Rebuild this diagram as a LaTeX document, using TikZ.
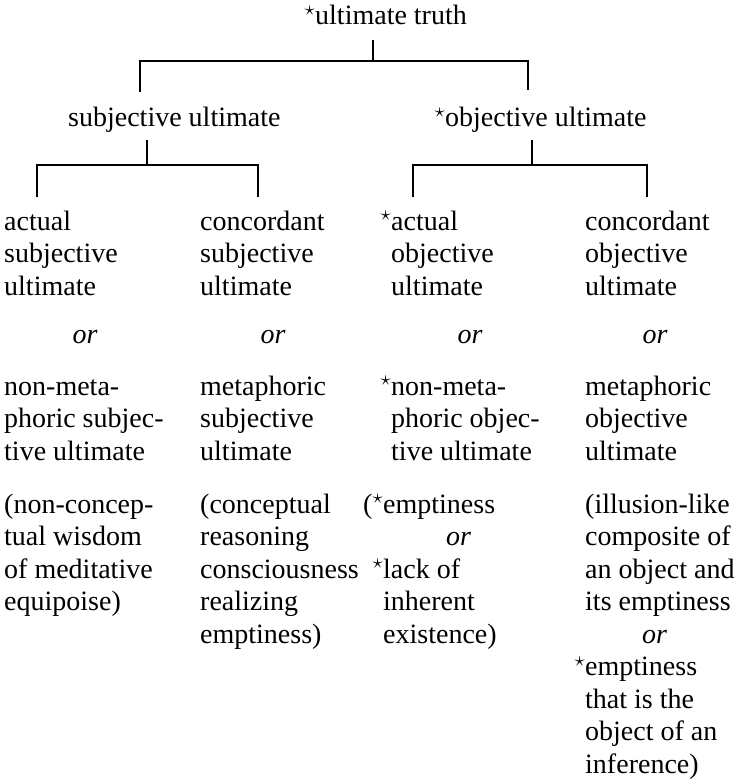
\documentclass[tikz,border=0pt]{standalone}
\usepackage{fontspec}
\setmainfont{Liberation Serif}
\newcommand{\ustar}{\textsuperscript{$\star$}}

\begin{document}
\begin{tikzpicture}[
    x=1pt, y=-1pt,
    txt/.style={align=left, anchor=base west, inner sep=0pt, font=\fontsize{28}{32.5}\selectfont},
    ortxt/.style={anchor=base, inner sep=0pt, font=\fontsize{28}{32.5}\selectfont\itshape},
    branch/.style={draw=black, line width=1.1pt}
]
    \useasboundingbox (0,0) rectangle (737,783);

    % Top level
    \node[txt] (truth) at (315,25) {\llap{\ustar}ultimate truth};
    \node[txt] (subj) at (68,127) {subjective ultimate};
    \node[txt] (obj) at (445,127) {\llap{\ustar}objective ultimate};

    % Actual / concordant (base = last line)
    \node[txt] (a1) at (4,295) {actual\\subjective\\ultimate};
    \node[txt] (a2) at (200,295) {concordant\\subjective\\ultimate};
    \node[txt] (a3) at (391,295) {\llap{\ustar}actual\\objective\\ultimate};
    \node[txt] (a4) at (585,295) {concordant\\objective\\ultimate};

    % or
    \node[ortxt] (or1) at (85,343) {or};
    \node[ortxt] (or2) at (273,343) {or};
    \node[ortxt] (or3) at (470,343) {or};
    \node[ortxt] (or4) at (655,343) {or};

    % Non-metaphoric / metaphoric
    \node[txt] (b1) at (4,460) {non-meta-\\phoric subjec-\\tive ultimate};
    \node[txt] (b2) at (200,460) {metaphoric\\subjective\\ultimate};
    \node[txt] (b3) at (391,460) {\llap{\ustar}non-meta-\\phoric objec-\\tive ultimate};
    \node[txt] (b4) at (585,460) {metaphoric\\objective\\ultimate};

    % Explanations
    \node[txt] (c1) at (4,610.5) {(non-concep-\\tual wisdom\\of meditative\\equipoise)};
    \node[txt] (c2) at (200,643) {(conceptual\\reasoning\\consciousness\\realizing\\emptiness)};
    \node[txt] (c3) at (383,643) {\llap{(\ustar}emptiness\\\hspace*{63pt}\textit{or}\\\llap{\ustar}lack of\\inherent\\existence)};
    \node[txt] (c4) at (585,773) {(illusion-like\\composite of\\an object and\\its emptiness\\\hspace*{57pt}\textit{or}\\\llap{\ustar}emptiness\\that is the\\object of an\\inference)};

    % Branch points
    \coordinate (ttop) at (373,40);
    \coordinate (tbar) at (373,61);
    \coordinate (tl) at (140,92);
    \coordinate (tr) at (528,90);
    \coordinate (stop) at (147,140);
    \coordinate (sbar) at (147,165);
    \coordinate (sl) at (37,197);
    \coordinate (sr) at (258,197);
    \coordinate (otop) at (532,140);
    \coordinate (obar) at (532,165);
    \coordinate (ol) at (413,197);
    \coordinate (or) at (647,197);

    % Brackets
    \draw[branch] (ttop) -- (tbar);
    \draw[branch] (tl) -- (tl |- tbar) -- (tr |- tbar) -- (tr);
    \draw[branch] (stop) -- (sbar);
    \draw[branch] (sl) -- (sl |- sbar) -- (sr |- sbar) -- (sr);
    \draw[branch] (otop) -- (obar);
    \draw[branch] (ol) -- (ol |- obar) -- (or |- obar) -- (or);
\end{tikzpicture}
\end{document}
